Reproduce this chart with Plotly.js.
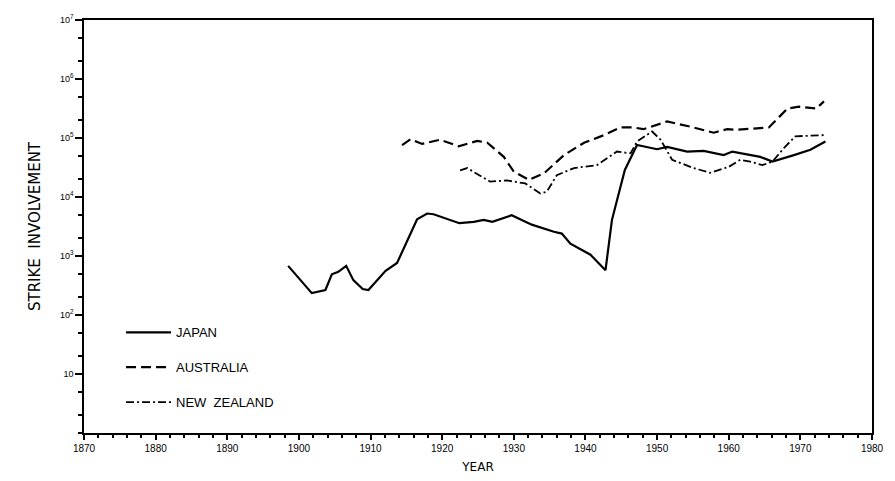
<!DOCTYPE html>
<html>
<head>
<meta charset="utf-8">
<script src="https://cdn.plot.ly/plotly-3.0.1.min.js"></script>
<style>html,body{margin:0;padding:0;background:#fff;}#chart{width:895px;height:481px;}</style>
</head>
<body>
<div id="chart"></div>
<script>
// Japan
const japanYears = [1898.5,1901.8,1903.7,1904.6,1905.5,1906.6,1907.6,1908.9,1909.7,1910.9,1912.1,1913.7,1915.1,1916.5,1917.9,1918.8,1922.4,1924.4,1925.8,1927.0,1929.7,1932.5,1935.6,1936.7,1937.9,1940.7,1942.8,1943.7,1945.5,1947.2,1950.0,1951.4,1954.2,1956.5,1959.3,1960.5,1964.4,1966.1,1969.1,1971.4,1973.5];
const japanValues = [680,235,265,490,540,680,390,275,265,390,560,760,1740,4200,5250,5100,3600,3800,4100,3800,4900,3400,2570,2400,1620,1050,575,4100,28800,76000,64500,70800,58900,60300,51300,58900,47900,39800,51300,63100,87100];
// Australia
const australiaYears = [1914.4,1915.6,1917.2,1919.7,1922.3,1924.9,1926.3,1928.6,1930.0,1932.1,1934.2,1937.0,1939.8,1942.6,1944.9,1946.7,1948.1,1951.4,1954.7,1957.9,1959.8,1961.2,1965.6,1968.2,1969.8,1972.2,1973.3];
const australiaValues = [75900,95500,79400,93300,72400,89100,83200,47900,26900,19500,25100,51300,83200,112000,151000,151000,141000,191000,155000,123000,141000,138000,151000,316000,339000,316000,417000];
// New Zealand
const nzYears = [1922.5,1923.5,1926.7,1929.0,1931.6,1933.7,1934.6,1936.0,1938.4,1941.6,1944.4,1946.3,1947.2,1949.3,1950.5,1952.1,1955.1,1957.4,1960.0,1961.6,1963.0,1964.7,1966.1,1967.7,1969.3,1973.5];
const nzValues = [28200,30900,18200,19100,17000,11500,12300,23400,30900,34700,58900,55000,87100,129000,93300,42700,30900,25700,32400,42700,39800,34700,39800,67600,107000,112000];

const seriesNames = ["JAPAN","AUSTRALIA","NEW  ZEALAND"];
const xLabelYears = [1870,1880,1890,1900,1910,1920,1930,1940,1950,1960,1970,1980];
const yTickVals = [10,100,1000,10000,100000,1000000,10000000];
const yTickText = ["10","10<sup>2</sup>","10<sup>3</sup>","10<sup>4</sup>","10<sup>5</sup>","10<sup>6</sup>","10<sup>7</sup>"];

const FONT = "Liberation Sans, Arial, sans-serif";
const TITLE_FONT = "DejaVu Sans, Liberation Sans, sans-serif";
const X_RANGE = [1870, 1980];
const Y_RANGE = [0, 7];

const traces = [
  {x: japanYears, y: japanValues, name: seriesNames[0], legendgroup: "a", mode: "lines",
   line: {color: "#000", width: 2.2, dash: "solid"}},
  {x: australiaYears, y: australiaValues, name: seriesNames[1], legendgroup: "b", mode: "lines",
   line: {color: "#000", width: 2.2, dash: "10px,5px"}},
  {x: nzYears, y: nzValues, name: seriesNames[2], legendgroup: "c", mode: "lines",
   line: {color: "#000", width: 1.8, dash: "8px,3px,2px,3px"}}
];

const layout = {
  width: 895, height: 481,
  margin: {l: 84, r: 23, t: 20, b: 48},
  paper_bgcolor: "#fff", plot_bgcolor: "#fff",
  font: {family: FONT, color: "#000", size: 10},
  showlegend: true,
  legend: {x: 0.047, y: 0.28, xanchor: "left", yanchor: "top", bgcolor: "rgba(0,0,0,0)",
           itemwidth: 45,
           font: {family: FONT, size: 13, color: "#000"}, tracegroupgap: 15, traceorder: "grouped"},
  xaxis: {
    range: X_RANGE, showgrid: false, zeroline: false,
    showline: true, linecolor: "#000", linewidth: 1.5, mirror: true,
    ticks: "outside", ticklen: 5, tickwidth: 2, tickcolor: "#000",
    tickvals: xLabelYears,
    minor: {dtick: 2, tick0: 1870, ticks: "outside", ticklen: 3, tickwidth: 1.5, tickcolor: "#000", showgrid: false},
    tickfont: {family: FONT, size: 10, color: "#000"},
    title: {text: "YEAR", font: {family: TITLE_FONT, size: 12, color: "#000"}, standoff: 10}
  },
  yaxis: {
    type: "log", range: Y_RANGE, showgrid: false, zeroline: false,
    showline: true, linecolor: "#000", linewidth: 1.5, mirror: true,
    ticks: "outside", ticklen: 7, tickwidth: 2, tickcolor: "#000",
    tickvals: yTickVals, ticktext: yTickText,
    minor: {dtick: "D2", ticks: "outside", ticklen: 4, tickwidth: 1.5, tickcolor: "#000", showgrid: false},
    tickfont: {family: FONT, size: 9, color: "#000"},
    title: {text: "STRIKE  INVOLVEMENT", font: {family: TITLE_FONT, size: 15, color: "#000"}, standoff: 16}
  }
};

Plotly.newPlot("chart", traces, layout, {displayModeBar: false});
</script>
</body>
</html>
